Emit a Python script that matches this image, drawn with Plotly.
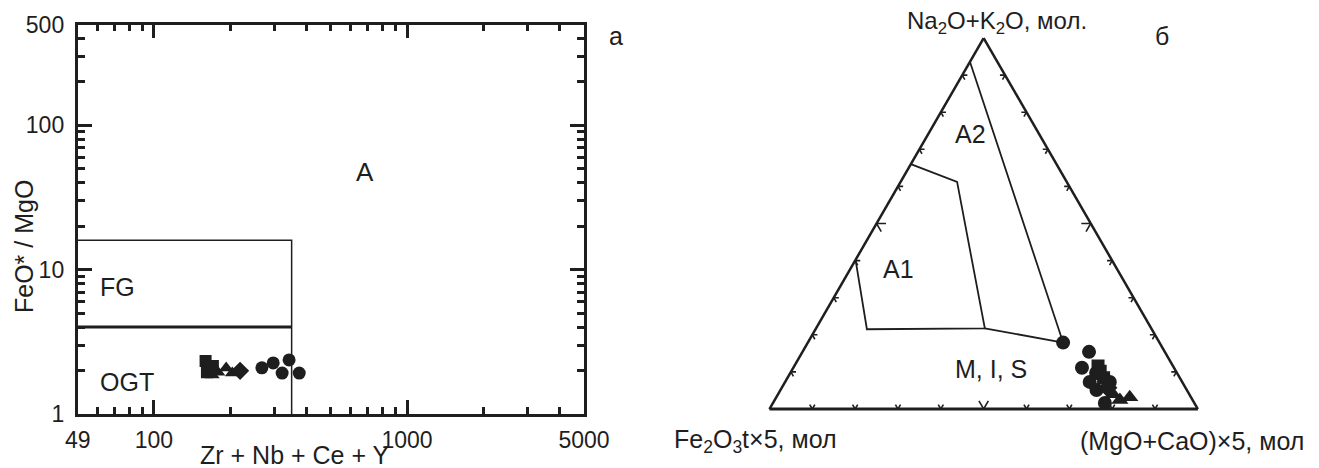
import math
import plotly.graph_objects as go

# ---------------- data: panel a (log-log) ----------------
sq_x = [160, 162, 171]
sq_y = [2.33, 1.95, 2.15]
tri_x = [179, 193, 170, 204]
tri_y = [1.95, 2.08, 1.86, 1.92]
dia_x = [219]
dia_y = [1.99]
cir_x = [267, 296, 342, 321, 375]
cir_y = [2.09, 2.26, 2.37, 1.92, 1.92]

# field boundaries (Whalen et al.)
fg_top_x = [50, 350, 350]
fg_top_y = [16, 16, 1]
fg_low_x = [50, 350]
fg_low_y = [4, 4]

x_tickvals = [50, 100, 1000, 5000]
x_ticktext = ["49", "100", "1000", "5000"]
x_minor = [60, 70, 80, 90, 200, 300, 400, 500, 600, 700, 800, 900, 2000, 3000, 4000]
y_tickvals = [1, 10, 100, 500]
y_ticktext = ["1", "10", "100", "500"]
y_minor = [2, 3, 4, 5, 6, 7, 8, 9, 20, 30, 40, 50, 60, 70, 80, 90, 200, 300, 400]

# ---------------- data: panel б (ternary) ----------------
# a = Na2O+K2O, b = Fe2O3t*5, c = (MgO+CaO)*5
t_cir_a = [0.179, 0.154, 0.111, 0.073, 0.016, 0.097, 0.051, 0.073]
t_cir_b = [0.225, 0.177, 0.215, 0.216, 0.209, 0.189, 0.211, 0.169]
t_cir_c = [0.596, 0.669, 0.674, 0.711, 0.775, 0.714, 0.738, 0.758]
t_sq_a = [0.116, 0.084, 0.102]
t_sq_b = [0.175, 0.178, 0.177]
t_sq_c = [0.709, 0.738, 0.721]
t_tri_a = [0.040, 0.032, 0.024]
t_tri_b = [0.178, 0.143, 0.170]
t_tri_c = [0.782, 0.825, 0.806]
t_dia_a = [0.057]
t_dia_b = [0.182]
t_dia_c = [0.761]

a1_a = [0.66, 0.612, 0.2175, 0.215, 0.402]
a1_b = [0.34, 0.256, 0.3885, 0.665, 0.598]
a1_c = [0.0, 0.132, 0.394, 0.12, 0.0]
a2_a = [0.2175, 0.179, 0.936]
a2_b = [0.3885, 0.225, 0.064]
a2_c = [0.394, 0.596, 0.0]

tern_ticks = [0.1, 0.2, 0.3, 0.4, 0.5, 0.6, 0.7, 0.8, 0.9]

INK = "#1e1e1e"
FONT = "Liberation Sans, Arial, sans-serif"

fig = go.Figure()

# ---- panel a ----
fig.add_trace(go.Scatter(x=fg_top_x, y=fg_top_y, mode="lines",
                         line=dict(color=INK, width=1.5), showlegend=False, hoverinfo="skip"))
fig.add_trace(go.Scatter(x=fg_low_x, y=fg_low_y, mode="lines",
                         line=dict(color=INK, width=3), showlegend=False, hoverinfo="skip"))
for xs, ys, sym, sz in [(sq_x, sq_y, "square", 12), (tri_x, tri_y, "triangle-up", 13),
                        (dia_x, dia_y, "diamond", 14), (cir_x, cir_y, "circle", 13)]:
    fig.add_trace(go.Scatter(x=xs, y=ys, mode="markers",
                             marker=dict(symbol=sym, size=sz, color=INK, line=dict(width=0)),
                             showlegend=False))

fig.update_xaxes(type="log", range=[math.log10(50), math.log10(5000)],
                 domain=[77.7 / 1319, 584 / 1319], automargin=False,
                 tickmode="array", tickvals=x_tickvals, ticktext=x_ticktext,
                 ticks="inside", ticklen=14, tickwidth=3, tickcolor=INK,
                 minor=dict(tickmode="array", tickvals=x_minor, ticks="inside",
                            ticklen=7, tickwidth=2.5, tickcolor=INK, showgrid=False),
                 showline=True, linewidth=2.8, linecolor=INK, mirror="allticks",
                 showgrid=False, zeroline=False, ticklabelstandoff=3,
                 tickfont=dict(family=FONT, size=23, color=INK))
fig.update_yaxes(type="log", range=[0, math.log10(500)],
                 domain=[(468 - 414) / 468, (468 - 24.5) / 468], automargin=False,
                 tickmode="array", tickvals=y_tickvals, ticktext=y_ticktext,
                 ticks="inside", ticklen=14, tickwidth=3, tickcolor=INK,
                 minor=dict(tickmode="array", tickvals=y_minor, ticks="inside",
                            ticklen=7, tickwidth=2.5, tickcolor=INK, showgrid=False),
                 showline=True, linewidth=2.8, linecolor=INK, mirror="allticks",
                 showgrid=False, zeroline=False, ticklabelstandoff=6,
                 tickfont=dict(family=FONT, size=23, color=INK))

# ---- panel б ----
fig.add_trace(go.Scatterternary(a=a1_a, b=a1_b, c=a1_c, mode="lines",
                                line=dict(color=INK, width=1.8), showlegend=False, hoverinfo="skip"))
fig.add_trace(go.Scatterternary(a=a2_a, b=a2_b, c=a2_c, mode="lines",
                                line=dict(color=INK, width=1.8), showlegend=False, hoverinfo="skip"))

# small edge ticks drawn as short grid fragments
tk_a, tk_b, tk_c = [], [], []
for t in tern_ticks:
    d = 0.022 if abs(t - 0.5) < 1e-9 else 0.012
    # left edge (c = 0)
    tk_a += [t, t, None, t, t - d, None]
    tk_b += [1 - t, 1 - t - d, None, 1 - t, 1 - t, None]
    tk_c += [0, d, None, 0, d, None]
    # bottom edge (a = 0)
    tk_a += [0, d, None, 0, d, None]
    tk_b += [1 - t, 1 - t, None, 1 - t, 1 - t - d, None]
    tk_c += [t, t - d, None, t, t, None]
    # right edge (b = 0)
    tk_a += [t, t, None, t, t - d, None]
    tk_b += [0, d, None, 0, d, None]
    tk_c += [1 - t, 1 - t - d, None, 1 - t, 1 - t, None]
fig.add_trace(go.Scatterternary(a=tk_a, b=tk_b, c=tk_c, mode="lines",
                                line=dict(color=INK, width=1.6), connectgaps=False,
                                showlegend=False, hoverinfo="skip"))

for aa, bb, cc, sym, sz in [(t_cir_a, t_cir_b, t_cir_c, "circle", 14),
                            (t_sq_a, t_sq_b, t_sq_c, "square", 13),
                            (t_dia_a, t_dia_b, t_dia_c, "diamond", 15),
                            (t_tri_a, t_tri_b, t_tri_c, "triangle-up", 15)]:
    fig.add_trace(go.Scatterternary(a=aa, b=bb, c=cc, mode="markers",
                                    marker=dict(symbol=sym, size=sz, color=INK, line=dict(width=0)),
                                    showlegend=False))

tern_axis = dict(showgrid=False, showticklabels=False, ticks="", linecolor=INK,
                 linewidth=2.5, min=0, title=dict(text=""))
fig.update_layout(ternary=dict(
    domain=dict(x=[769.3 / 1319, 1198 / 1319], y=[(468 - 409) / 468, (468 - 38) / 468]),
    sum=1, bgcolor="white",
    aaxis=tern_axis, baxis=dict(tern_axis, linewidth=3), caxis=tern_axis))

# ---- annotations ----
def ann(text, x, y, size=25, xref="paper", yref="paper", xanchor="center", yanchor="middle", angle=0):
    fig.add_annotation(text=text, x=x, y=y, xref=xref, yref=yref, xanchor=xanchor,
                       yanchor=yanchor, showarrow=False, textangle=angle,
                       font=dict(family=FONT, size=size, color=INK))

def px(xp):
    return xp / 1319

def py(yp):
    return 1 - yp / 468

ann("Zr + Nb + Ce + Y", px(295), py(455), size=25)
ann("FeO* / MgO", px(24), py(247), size=25, angle=-90)
ann("A", math.log10(684), math.log10(47.5), size=26, xref="x", yref="y")
ann("FG", math.log10(60), math.log10(7.55), size=25, xref="x", yref="y", xanchor="left")
ann("OGT", math.log10(60), math.log10(1.67), size=25, xref="x", yref="y", xanchor="left")
ann("а", px(616), py(36), size=25)

ann("Na<sub>2</sub>O+K<sub>2</sub>O, мол.", px(997), py(22), size=24)
ann("Fe<sub>2</sub>O<sub>3</sub>t×5, мол", px(755), py(441), size=25)
ann("(MgO+CaO)×5, мол", px(1192), py(441), size=25)
ann("A2", px(970), py(134), size=25)
ann("A1", px(898), py(269), size=25)
ann("M, I, S", px(991), py(369), size=25)
ann("б", px(1162), py(36), size=25)

fig.update_layout(width=1319, height=468, margin=dict(l=0, r=0, t=0, b=0, autoexpand=False),
                  paper_bgcolor="white", plot_bgcolor="white", showlegend=False)

fig.write_html("out.html")
